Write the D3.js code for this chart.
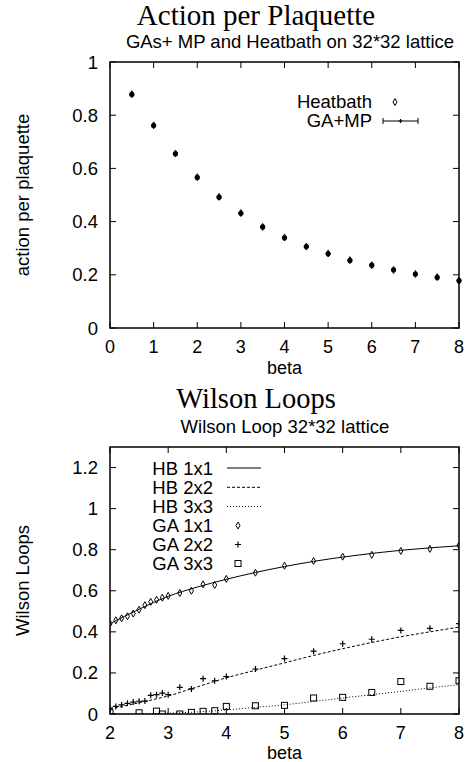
<!doctype html>
<html>
<head>
<meta charset="UTF-8">
<title>Action per Plaquette / Wilson Loops</title>
<script src="https://d3js.org/d3.v7.min.js"></script>
<style>
  body { margin: 0; background: #fff; }
  svg text { font-family: "Liberation Sans", Arial, sans-serif; fill: #000; }
</style>
</head>
<body>
<svg id="fig" width="465" height="762"></svg>
<script>
// --- top chart: action per plaquette
var actBeta = [0.5, 1, 1.5, 2, 2.5, 3, 3.5, 4, 4.5, 5, 5.5, 6, 6.5, 7, 7.5, 8];
var actHB   = [0.879, 0.762, 0.656, 0.567, 0.493, 0.432, 0.380, 0.340, 0.306, 0.280, 0.255, 0.236, 0.218, 0.203, 0.191, 0.178];
var actGA   = [0.878, 0.761, 0.655, 0.566, 0.492, 0.431, 0.380, 0.339, 0.306, 0.279, 0.254, 0.236, 0.219, 0.203, 0.190, 0.178];
var actErr  = [0.003, 0.003, 0.003, 0.003, 0.003, 0.003, 0.003, 0.003, 0.003, 0.003, 0.003, 0.003, 0.003, 0.003, 0.003, 0.003];
var actXTicks = [0, 1, 2, 3, 4, 5, 6, 7, 8];
var actYTicks = [0, 0.2, 0.4, 0.6, 0.8, 1];

// --- bottom chart: wilson loops
var hbBeta = [2, 2.5, 3, 3.5, 4, 4.5, 5, 5.5, 6, 6.5, 7, 7.5, 8];
var hb1x1  = [0.440, 0.510, 0.573, 0.618, 0.656, 0.689, 0.718, 0.743, 0.764, 0.782, 0.797, 0.809, 0.819];
var hb2x2  = [0.025, 0.055, 0.088, 0.132, 0.176, 0.213, 0.249, 0.285, 0.318, 0.348, 0.376, 0.400, 0.423];
var hb3x3  = [0.000, 0.001, 0.004, 0.010, 0.020, 0.032, 0.045, 0.061, 0.078, 0.094, 0.110, 0.127, 0.143];

var gaBeta = [2.0, 2.1, 2.2, 2.3, 2.4, 2.5, 2.6, 2.7, 2.8, 2.9, 3.0, 3.2, 3.4, 3.6, 3.8, 4.0, 4.5, 5.0, 5.5, 6.0, 6.5, 7.0, 7.5, 8.0];
var ga1x1  = [0.440, 0.456, 0.466, 0.476, 0.489, 0.508, 0.530, 0.546, 0.556, 0.566, 0.575, 0.589, 0.600, 0.631, 0.628, 0.658, 0.688, 0.722, 0.745, 0.766, 0.775, 0.794, 0.804, 0.821];
var ga2x2  = [0.029, 0.037, 0.044, 0.052, 0.058, 0.062, 0.063, 0.091, 0.094, 0.102, 0.094, 0.130, 0.122, 0.172, 0.162, 0.182, 0.219, 0.270, 0.306, 0.342, 0.364, 0.407, 0.417, 0.440];
var ga3Beta = [2.0, 2.5, 2.8, 2.9, 3.2, 3.4, 3.6, 3.8, 4.0, 4.5, 5.0, 5.5, 6.0, 6.5, 7.0, 7.5, 8.0];
var ga3x3  = [0.006, 0.006, 0.014, 0.000, 0.000, 0.008, 0.013, 0.016, 0.037, 0.040, 0.042, 0.078, 0.081, 0.105, 0.158, 0.135, 0.162];
var wlXTicks = [2, 3, 4, 5, 6, 7, 8];
var wlYTicks = [0, 0.2, 0.4, 0.6, 0.8, 1, 1.2];

var svg = d3.select("#fig");
var L = 110, R = 459, FS = 18.5, AX = 18;

// frame + mirrored inward ticks, gnuplot style
function frame(g, x, y, xt, yt, top, bot, tickY, labY, ylab, xlab) {
    var tl = 6;
    xt.forEach(function(v){
        g.append("line").attr("x1", x(v)).attr("x2", x(v)).attr("y1", bot).attr("y2", bot - tl).attr("stroke", "#000");
        g.append("line").attr("x1", x(v)).attr("x2", x(v)).attr("y1", top).attr("y2", top + tl).attr("stroke", "#000");
        g.append("text").attr("x", x(v)).attr("y", tickY).attr("text-anchor", "middle")
         .style("font-size", AX + "px").text(fmt(v));
    });
    yt.forEach(function(v){
        g.append("line").attr("x1", L).attr("x2", L + tl).attr("y1", y(v)).attr("y2", y(v)).attr("stroke", "#000");
        g.append("line").attr("x1", R).attr("x2", R - tl).attr("y1", y(v)).attr("y2", y(v)).attr("stroke", "#000");
        g.append("text").attr("x", 98).attr("y", y(v) + 6.5).attr("text-anchor", "end")
         .style("font-size", FS + "px").text(fmt(v));
    });
    g.append("rect").attr("x", L).attr("y", top).attr("width", R - L).attr("height", bot - top)
     .attr("fill", "none").attr("stroke", "#000").attr("stroke-width", 1.5);
    g.append("text").attr("x", (L + R) / 2).attr("y", labY).attr("text-anchor", "middle")
     .style("font-size", AX + "px").text(xlab);
    g.append("text").attr("transform", "translate(29," + ((top + bot) / 2) + ") rotate(-90)")
     .attr("text-anchor", "middle").style("font-size", FS + "px").text(ylab);
}

function diamond(g, cx, cy) {
    g.append("path").attr("d", d3.symbol(d3.symbolDiamond, 14)())
     .attr("transform", "translate(" + cx + "," + cy + ")")
     .attr("fill", "none").attr("stroke", "#000").attr("stroke-width", 1);
}
function plus(g, cx, cy, s) {
    g.append("path").attr("d", "M" + (cx - s) + "," + cy + "H" + (cx + s) + "M" + cx + "," + (cy - s) + "V" + (cy + s))
     .attr("stroke", "#000").attr("stroke-width", 1.2).attr("fill", "none");
}
function square(g, cx, cy) {
    g.append("rect").attr("x", cx - 3).attr("y", cy - 3).attr("width", 6).attr("height", 6)
     .attr("fill", "none").attr("stroke", "#000").attr("stroke-width", 1);
}
function fmt(v){ return String(+v.toFixed(1)); }

// ============ top ============
var g1 = svg.append("g");
var x1 = d3.scaleLinear().domain([0, 8]).range([L, R]);
var y1 = d3.scaleLinear().domain([0, 1]).range([328, 62]);
g1.append("text").attr("x", 256).attr("y", 25).attr("text-anchor", "middle")
  .style("font-size", "29px").style("font-family", "'Liberation Serif', serif").text("Action per Plaquette");
g1.append("text").attr("x", 290).attr("y", 48).attr("text-anchor", "middle")
  .style("font-size", FS + "px").text("GAs+ MP and Heatbath on 32*32 lattice");
frame(g1, x1, y1, actXTicks, actYTicks, 62, 328, 353.3, 374, "action per plaquette", "beta");

actBeta.forEach(function(b, i){ diamond(g1, x1(b), y1(actHB[i])); });
actBeta.forEach(function(b, i){
    var cx = x1(b), cy = y1(actGA[i]);
    g1.append("line").attr("x1", cx).attr("x2", cx).attr("y1", y1(actGA[i] - actErr[i])).attr("y2", y1(actGA[i] + actErr[i]))
      .attr("stroke", "#000");
    g1.append("circle").attr("cx", cx).attr("cy", cy).attr("r", 2.6).attr("fill", "#000");
});

// legend
g1.append("text").attr("x", 372).attr("y", 108).attr("text-anchor", "end").style("font-size", FS + "px").text("Heatbath");
diamond(g1, 395, 102);
g1.append("text").attr("x", 372).attr("y", 127).attr("text-anchor", "end").style("font-size", FS + "px").text("GA+MP");
g1.append("path").attr("d", "M383,121H418M383,118V124M418,118V124").attr("stroke", "#000").attr("fill", "none");
plus(g1, 400.5, 121, 2);

// ============ bottom ============
var g2 = svg.append("g");
var x2 = d3.scaleLinear().domain([2, 8]).range([L, R]);
var y2 = d3.scaleLinear().domain([0, 1.3]).range([714, 447]);
g2.append("text").attr("x", 256).attr("y", 408).attr("text-anchor", "middle")
  .style("font-size", "28.5px").style("font-family", "'Liberation Serif', serif").text("Wilson Loops");
g2.append("text").attr("x", 285).attr("y", 433).attr("text-anchor", "middle")
  .style("font-size", FS + "px").text("Wilson Loop 32*32 lattice");
frame(g2, x2, y2, wlXTicks, wlYTicks, 447, 714, 738.5, 759, "Wilson Loops", "beta");

g2.append("clipPath").attr("id", "c2").append("rect")
  .attr("x", L).attr("y", 447).attr("width", R - L).attr("height", 714 - 447);
var plot = g2.append("g").attr("clip-path", "url(#c2)");

var hbSeries = [
    { vals: hb1x1, dash: null },
    { vals: hb2x2, dash: "3,2" },
    { vals: hb3x3, dash: "1,2" }
];
hbSeries.forEach(function(s){
    var line = d3.line().x(function(d, i){ return x2(hbBeta[i]); })
                        .y(function(d){ return y2(d); })
                        .curve(d3.curveMonotoneX);
    plot.append("path").attr("d", line(s.vals)).attr("fill", "none").attr("stroke", "#000")
        .attr("stroke-width", 1).attr("stroke-dasharray", s.dash);
});
gaBeta.forEach(function(b, i){ diamond(plot, x2(b), y2(ga1x1[i])); });
gaBeta.forEach(function(b, i){ plus(plot, x2(b), y2(ga2x2[i]), 3); });
ga3Beta.forEach(function(b, i){ square(plot, x2(b), y2(ga3x3[i])); });

// legend
var legY = [468, 487.3, 506.5, 525.5, 544.5, 563.5];
var legT = ["HB 1x1", "HB 2x2", "HB 3x3", "GA 1x1", "GA 2x2", "GA 3x3"];
legT.forEach(function(t, i){
    g2.append("text").attr("x", 213).attr("y", legY[i] + 6.5).attr("text-anchor", "end")
      .style("font-size", FS + "px").text(t);
});
hbSeries.forEach(function(s, i){
    g2.append("line").attr("x1", 227).attr("x2", 261).attr("y1", legY[i]).attr("y2", legY[i])
      .attr("stroke", "#000").attr("stroke-dasharray", s.dash);
});
diamond(g2, 238, legY[3]);
plus(g2, 238, legY[4], 3);
square(g2, 238, legY[5]);
</script>
</body>
</html>
